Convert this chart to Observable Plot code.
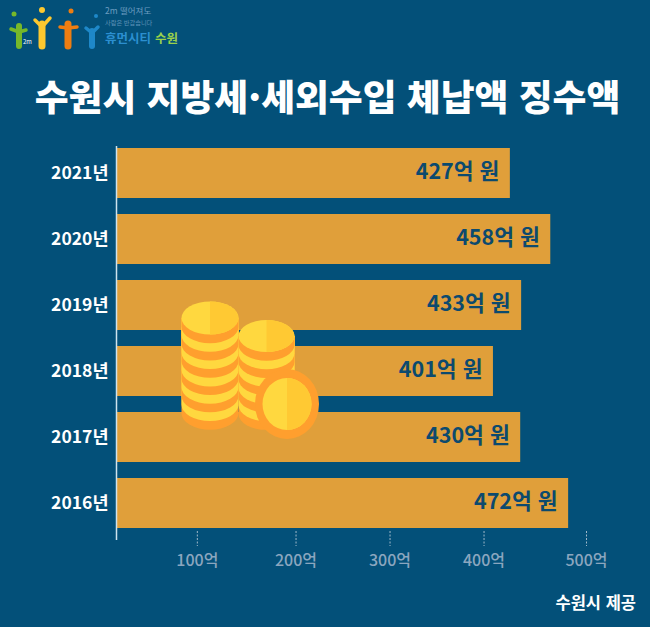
<!DOCTYPE html>
<html lang="ko">
<head>
<meta charset="utf-8">
<script src="https://cdn.jsdelivr.net/npm/d3@7"></script>
<script src="https://cdn.jsdelivr.net/npm/@observablehq/plot@0.6"></script>
<style>
  html, body { margin: 0; padding: 0; background: #035079; }
  body { position: relative; width: 650px; height: 627px; overflow: hidden; font-family: "Noto Sans CJK KR", sans-serif; }
  #header { height: 120px; }
  #title { position: absolute; left: 0; top: 62px; width: 655px; text-align: center; color: #fff; font-size: 36.8px; font-weight: 900; line-height: 66px; white-space: nowrap; }
  #caption { position: absolute; right: 14px; top: 590px; color: #fff; font-size: 16.5px; font-weight: 700; line-height: 24px; }
  #chart svg { display: block; }
  .art { position: absolute; left: 0; top: 0; pointer-events: none; }
</style>
</head>
<body>
<div id="header"><div id="title">수원시 지방세·세외수입 체납액 징수액</div></div>
<div id="chart"></div>
<div id="caption">수원시 제공</div>

<svg class="art" width="650" height="627" id="art">
  <!-- logo -->
  <g fill="none" stroke-linecap="round" stroke-linejoin="round">
    <path d="M19 46V26" stroke="#76b82a" stroke-width="6"/>
    <path d="M11 29l8 3 7-2" stroke="#76b82a" stroke-width="3.5"/>
    <path d="M42 46V24" stroke="#fdc82f" stroke-width="7"/>
    <path d="M35 20l7 7 8-9" stroke="#fdc82f" stroke-width="3.5"/>
    <path d="M68 46V24" stroke="#ee7d11" stroke-width="7"/>
    <path d="M60 27l8 1 9-1" stroke="#ee7d11" stroke-width="3.5"/>
    <path d="M92 46V31" stroke="#1e88c9" stroke-width="6"/>
    <path d="M86 28l6 5 6-6" stroke="#1e88c9" stroke-width="3.5"/>
  </g>
  <circle cx="14" cy="14" r="2.5" fill="#76b82a"/>
  <circle cx="42" cy="10" r="3" fill="#fdc82f"/>
  <circle cx="71" cy="11" r="2.5" fill="#ee7d11"/>
  <circle cx="96" cy="16" r="2" fill="#1e88c9"/>
  <text x="23" y="44" font-size="6" fill="#fff">2m</text>
  <g font-family="Noto Sans CJK KR">
    <text x="105" y="14" font-size="8.5" fill="#6c9dc0">2m 떨어져도</text>
    <text x="105" y="24.5" font-size="6.2" fill="#5f93b8">사람은 반갑습니다</text>
    <text x="105" y="43" font-size="12.5" font-weight="700" fill="#2b8fd0">휴먼시티</text>
    <text x="155" y="43" font-size="12.5" font-weight="700" fill="#9ad14b">수원</text>
  </g>
  <g id="coins"></g>
</svg>

<script>
const years = ["2021년", "2020년", "2019년", "2018년", "2017년", "2016년"];
// printed amounts
const amounts = [427, 458, 433, 401, 430, 472];
// bars as drawn, the picture's bars do not quite follow the printed numbers
const barLengths = [419, 462, 431, 401, 430, 481];
const tickAt = [86, 191, 291, 391, 500];
const tickLabels = ["100억", "200억", "300억", "400억", "500억"];

const bars = years.map((year, i) => ({year, length: barLengths[i], label: amounts[i] + "억 원"}));

const plot = Plot.plot({
  width: 650,
  height: 472,
  marginTop: 24,
  marginBottom: 61,
  marginLeft: 116,
  marginRight: 64,
  style: {background: "transparent", fontFamily: "Noto Sans CJK KR", overflow: "visible"},
  x: {domain: [0, 500]},
  y: {domain: years, paddingInner: 0.25, paddingOuter: 0.05},
  marks: [
    Plot.barX(bars, {x: "length", y: "year", fill: "#e09f3a"}),
    Plot.ruleX([0], {stroke: "#cfe3ee", strokeWidth: 1.5, insetTop: 2, insetBottom: -9}),
    Plot.text(bars, {x: "length", y: "year", text: "label", textAnchor: "end", dx: -11, dy: -1, fill: "#0c4a6e", fontSize: 21.5, fontWeight: 700}),
    Plot.axisY({
      tickSize: 0, tickPadding: 8, label: null, fontSize: 17.5, fontWeight: 700, fill: "#fff"
    }),
    Plot.axisX(tickAt, {
      anchor: "bottom", label: null, tickSize: 15, tickPadding: 8, fontSize: 16, fontWeight: 500,
      stroke: "#9fb8c9", strokeDasharray: "2 1.5", fill: "#8ba6bf",
      tickFormat: d => tickLabels[tickAt.indexOf(d)]
    })
  ]
});
document.getElementById("chart").append(plot);

// coin illustration on top of the bars
const coins = d3.select("#coins");
function stack(cx, top, rx, ry, bands) {
  const bandH = 8.65;
  for (let k = bands; k >= 1; k--) {
    const y = top + k * bandH;
    const fill = k % 2 === 1 ? "#ff9f2e" : "#ffd83f";
    coins.append("path")
      .attr("d", `M${cx - rx} ${top}V${y}A${rx} ${ry} 0 0 0 ${cx + rx} ${y}V${top}Z`)
      .attr("fill", fill);
  }
  coins.append("ellipse").attr("cx", cx).attr("cy", top).attr("rx", rx).attr("ry", ry).attr("fill", "#ffd83f");
  coins.append("path")
    .attr("d", `M${cx} ${top - ry}A${rx} ${ry} 0 0 1 ${cx} ${top + ry}Z`)
    .attr("fill", "#ffc933");
}
stack(210, 318, 28.5, 16.5, 11);
stack(266.5, 336, 28, 16, 9);
coins.append("ellipse").attr("cx", 287).attr("cy", 404).attr("rx", 32).attr("ry", 35).attr("fill", "#ff9f2e");
coins.append("ellipse").attr("cx", 287).attr("cy", 404).attr("rx", 24.5).attr("ry", 26).attr("fill", "#ffd83f");
coins.append("path").attr("d", "M287 378A24.5 26 0 0 1 287 430Z").attr("fill", "#ffc933");
</script>
</body>
</html>
